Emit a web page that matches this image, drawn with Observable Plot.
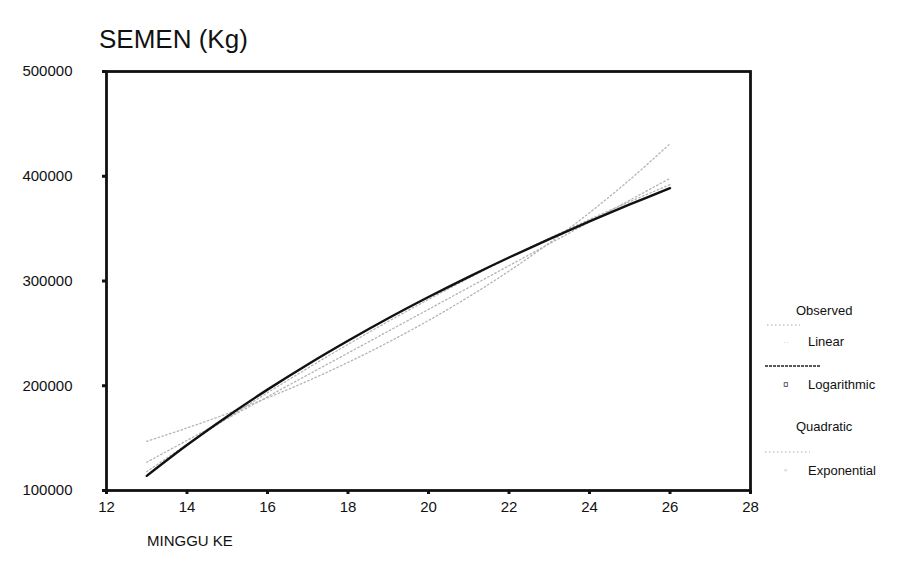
<!DOCTYPE html>
<html>
<head>
<meta charset="utf-8">
<script src="https://cdn.jsdelivr.net/npm/d3@7"></script>
<script src="https://cdn.jsdelivr.net/npm/@observablehq/plot@0.6"></script>
<style>
  body { margin: 0; background: #fff; }
  #wrap { position: relative; width: 898px; height: 571px; overflow: hidden; font-family: "Liberation Sans", Arial, sans-serif; }
  #chart { position: absolute; left: 0; top: 0; }
  #title { position: absolute; left: 99px; top: 24px; font-size: 26px; color: #111; }
  #xlabel { position: absolute; left: 147px; top: 532px; font-size: 15px; color: #111; }
  #legend { position: absolute; left: 0; top: 0; }
</style>
</head>
<body>
<div id="wrap">
  <div id="chart"></div>
  <div id="title">SEMEN (Kg)</div>
  <div id="xlabel">MINGGU KE</div>
</div>
<script>
// Data
const weeks = [13, 14, 15, 16, 17, 18, 19, 20, 21, 22, 23, 24, 25, 26];
const linear      = [127000, 147800, 168700, 189500, 210400, 231200, 252100, 272900, 293800, 314600, 335500, 356300, 377200, 398000];
const logarithmic = [114000, 143400, 170700, 196300, 220300, 242900, 264400, 284700, 304000, 322400, 340000, 356900, 373100, 388600];
const quadratic   = [118000, 143900, 169000, 193300, 216800, 239500, 261400, 282400, 302700, 322200, 340800, 358700, 375700, 392000];
const exponential = [147000, 159700, 173400, 188400, 204600, 222300, 241500, 262300, 284900, 309500, 336200, 365200, 396700, 431000];
const xTicks = [12, 14, 16, 18, 20, 22, 24, 26, 28];
const yTicks = [100000, 200000, 300000, 400000, 500000];
const legendNames = ["Observed", "Linear", "Logarithmic", "Quadratic", "Exponential"];

const seriesList = [
  {name: "Linear", values: linear},
  {name: "Quadratic", values: quadratic},
  {name: "Exponential", values: exponential},
  {name: "Logarithmic", values: logarithmic}
];
const rows = seriesList.flatMap(s => weeks.map((w, i) => ({week: w, value: s.values[i], series: s.name})));
const faint = rows.filter(r => r.series !== "Logarithmic");
const dark = rows.filter(r => r.series === "Logarithmic");

const chart = Plot.plot({
  width: 898,
  height: 571,
  marginLeft: 106,
  marginRight: 148,
  marginTop: 71,
  marginBottom: 81,
  style: {fontFamily: "Liberation Sans, Arial, sans-serif", fontSize: "15px", color: "#111", background: "#fff"},
  x: {domain: [12, 28], ticks: xTicks, label: null},
  y: {domain: [100000, 500000], ticks: yTicks, label: null},
  marks: [
    Plot.line(faint, {x: "week", y: "value", z: "series", stroke: "#b4b4b4", strokeWidth: 1.3, strokeDasharray: "1.5,2.5", curve: "catmull-rom"}),
    Plot.line(dark, {x: "week", y: "value", stroke: "#111", strokeWidth: 2.4, curve: "catmull-rom"}),
    Plot.axisX({ticks: xTicks, tickSize: 4, tickPadding: 7, tickFormat: d => String(d), stroke: "#111", strokeWidth: 3, fontSize: 15}),
    Plot.axisY({ticks: yTicks, tickSize: 4, tickPadding: 30, tickFormat: d3.format("d"), stroke: "#111", strokeWidth: 3, fontSize: 15}),
    Plot.frame({stroke: "#111", strokeWidth: 2.8})
  ]
});
document.getElementById("chart").appendChild(chart);

// Legend
const lg = d3.select("#wrap").append("svg").attr("id", "legend")
  .attr("width", 898).attr("height", 571)
  .style("position", "absolute").style("left", "0px").style("top", "0px")
  .style("font-family", "Liberation Sans, Arial, sans-serif").style("font-size", "13px");
const labelPos = [
  {x: 796, y: 315}, {x: 808, y: 346}, {x: 808, y: 389}, {x: 796, y: 431}, {x: 808, y: 475}
];
legendNames.forEach((n, i) => {
  lg.append("text").attr("x", labelPos[i].x).attr("y", labelPos[i].y).attr("fill", "#111").text(n);
});
// sample lines / marks
lg.append("line").attr("x1", 767).attr("x2", 800).attr("y1", 325).attr("y2", 325)
  .attr("stroke", "#aaa").attr("stroke-width", 1.2).attr("stroke-dasharray", "1.5,2.5");
lg.append("text").attr("x", 783).attr("y", 345).attr("fill", "#bbb").attr("font-size", "8px").text("··");
lg.append("line").attr("x1", 765).attr("x2", 820).attr("y1", 366).attr("y2", 366)
  .attr("stroke", "#222").attr("stroke-width", 1.3).attr("stroke-dasharray", "3,1");
lg.append("text").attr("x", 783).attr("y", 388).attr("fill", "#444").attr("font-size", "10px").text("¤");
lg.append("line").attr("x1", 765).attr("x2", 810).attr("y1", 452).attr("y2", 452)
  .attr("stroke", "#aaa").attr("stroke-width", 1.2).attr("stroke-dasharray", "1.5,2.5");
lg.append("text").attr("x", 784).attr("y", 473).attr("fill", "#999").attr("font-size", "9px").text("◦");
</script>
</body>
</html>
